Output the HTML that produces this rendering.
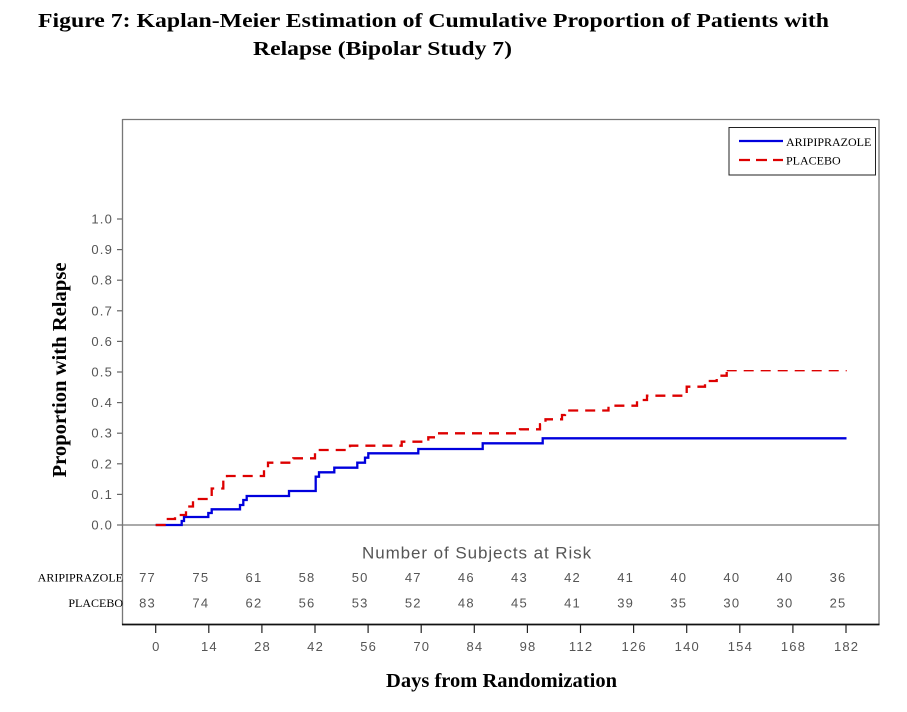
<!DOCTYPE html>
<html><head><meta charset="utf-8">
<style>
html,body{margin:0;padding:0;background:#fff;}
svg{display:block;}
.tk{font-family:"Liberation Sans",sans-serif;font-size:13px;fill:#555;letter-spacing:1.2px;}
</style></head>
<body>
<svg width="907" height="712" viewBox="0 0 907 712" xmlns="http://www.w3.org/2000/svg">
<rect width="907" height="712" fill="#fff"/>
<!-- Title -->
<text x="38" y="27" font-family="Liberation Serif, serif" font-weight="bold" font-size="20" textLength="791" lengthAdjust="spacingAndGlyphs" fill="#000">Figure 7:  Kaplan-Meier Estimation of Cumulative Proportion of Patients with</text>
<text x="253" y="55" font-family="Liberation Serif, serif" font-weight="bold" font-size="20" textLength="259" lengthAdjust="spacingAndGlyphs" fill="#000">Relapse (Bipolar Study 7)</text>

<!-- Frame -->
<line x1="122.5" y1="119.5" x2="879" y2="119.5" stroke="#777" stroke-width="1.3"/>
<line x1="122.5" y1="119" x2="122.5" y2="625" stroke="#777" stroke-width="1.3"/>
<line x1="879" y1="119" x2="879" y2="625" stroke="#777" stroke-width="1.3"/>
<line x1="122" y1="624.5" x2="879.5" y2="624.5" stroke="#111" stroke-width="1.8"/>
<!-- zero line -->
<line x1="122.5" y1="525" x2="879" y2="525" stroke="#777" stroke-width="1.2"/>

<!-- Legend -->
<rect x="729" y="127.5" width="146.5" height="47.5" fill="#fff" stroke="#222" stroke-width="1"/>
<line x1="739" y1="141" x2="783" y2="141" stroke="#0000dd" stroke-width="2.2"/>
<text x="786" y="146" font-family="Liberation Serif, serif" font-size="12" fill="#000">ARIPIPRAZOLE</text>
<line x1="739" y1="160" x2="783" y2="160" stroke="#dd0000" stroke-width="2.2" stroke-dasharray="11 6"/>
<text x="786" y="164.5" font-family="Liberation Serif, serif" font-size="12" fill="#000">PLACEBO</text>

<!-- Y axis ticks and labels -->
<g stroke="#666" stroke-width="1.2">
<line x1="117" y1="525" x2="122" y2="525"/>
<line x1="117" y1="494.4" x2="122" y2="494.4"/>
<line x1="117" y1="463.8" x2="122" y2="463.8"/>
<line x1="117" y1="433.2" x2="122" y2="433.2"/>
<line x1="117" y1="402.6" x2="122" y2="402.6"/>
<line x1="117" y1="372" x2="122" y2="372"/>
<line x1="117" y1="341.4" x2="122" y2="341.4"/>
<line x1="117" y1="310.8" x2="122" y2="310.8"/>
<line x1="117" y1="280.2" x2="122" y2="280.2"/>
<line x1="117" y1="249.6" x2="122" y2="249.6"/>
<line x1="117" y1="219" x2="122" y2="219"/>
</g>
<g class="tk" text-anchor="end">
<text x="113" y="529.5">0.0</text>
<text x="113" y="498.9">0.1</text>
<text x="113" y="468.3">0.2</text>
<text x="113" y="437.7">0.3</text>
<text x="113" y="407.1">0.4</text>
<text x="113" y="376.5">0.5</text>
<text x="113" y="345.9">0.6</text>
<text x="113" y="315.3">0.7</text>
<text x="113" y="284.7">0.8</text>
<text x="113" y="254.1">0.9</text>
<text x="113" y="223.5">1.0</text>
</g>

<!-- Y label -->
<text transform="translate(66,370) rotate(-90)" text-anchor="middle" font-family="Liberation Serif, serif" font-weight="bold" font-size="20" textLength="215" lengthAdjust="spacingAndGlyphs" fill="#000">Proportion  with  Relapse</text>

<!-- Curves -->
<polyline fill="none" stroke="#0000dd" stroke-width="2.3" points="155.7,525 181.7,525 181.7,521 184,521 184,517 208.3,517 208.3,513 211.7,513 211.7,509.3 240,509.3 240,505 243.3,505 243.3,500 246.7,500 246.7,496 289,496 289,491 315.7,491 315.7,476.7 319,476.7 319,472.3 334.3,472.3 334.3,467.7 357.3,467.7 357.3,462.7 365,462.7 365,457.7 368.3,457.7 368.3,453.3 418.3,453.3 418.3,449 482.7,449 482.7,443.3 542.7,443.3 542.7,438.3 846.5,438.3"/>
<polyline fill="none" stroke="#dd0000" stroke-width="2.3" stroke-dasharray="10 7" points="155.7,525 166.7,525 166.7,519 175,519 175,515 186,515 186,506.5 193,506.5 193,499 211.7,499 211.7,488.5 223.3,488.5 223.3,480 227,480 227,476 264,476 264,467.5 268,467.5 268,462.7 293.3,462.7 293.3,458.3 315,458.3 315,450 350,450 350,445.7 401.7,445.7 401.7,441.7 428.3,441.7 428.3,437.3 436.7,437.3 436.7,433.3 520,433.3 520,429.3 540,429.3 540,424.3 545.5,424.3 545.5,419.3 562,419.3 562,415 565,415 565,410.5 608.5,410.5 608.5,405.7 637,405.7 637,400 647,400 647,395.7 686.7,395.7 686.7,386.7 705,386.7 705,381 716.7,381 716.7,375.7 726.7,375.7 726.7,370.7"/>
<line x1="726.7" y1="370.7" x2="846.7" y2="370.7" stroke="#dd0000" stroke-width="1.4" stroke-dasharray="10 7"/>

<!-- Number at risk -->
<text x="362" y="558.5" font-family="Liberation Sans, sans-serif" font-size="17" fill="#555" letter-spacing="0.9" textLength="230" lengthAdjust="spacing">Number of Subjects at Risk</text>
<text x="123" y="581.5" text-anchor="end" font-family="Liberation Serif, serif" font-size="12" fill="#000">ARIPIPRAZOLE</text>
<text x="123" y="607" text-anchor="end" font-family="Liberation Serif, serif" font-size="12" fill="#000">PLACEBO</text>
<g class="tk" text-anchor="end">
<text x="156" y="582">77</text><text x="209.3" y="582">75</text><text x="262.4" y="582">61</text><text x="315.5" y="582">58</text><text x="368.6" y="582">50</text><text x="421.7" y="582">47</text><text x="474.8" y="582">46</text><text x="527.9" y="582">43</text><text x="581" y="582">42</text><text x="634.1" y="582">41</text><text x="687.2" y="582">40</text><text x="740.3" y="582">40</text><text x="793.4" y="582">40</text><text x="846.5" y="582">36</text>
<text x="156" y="607.5">83</text><text x="209.3" y="607.5">74</text><text x="262.4" y="607.5">62</text><text x="315.5" y="607.5">56</text><text x="368.6" y="607.5">53</text><text x="421.7" y="607.5">52</text><text x="474.8" y="607.5">48</text><text x="527.9" y="607.5">45</text><text x="581" y="607.5">41</text><text x="634.1" y="607.5">39</text><text x="687.2" y="607.5">35</text><text x="740.3" y="607.5">30</text><text x="793.4" y="607.5">30</text><text x="846.5" y="607.5">25</text>
</g>

<!-- X ticks -->
<g stroke="#222" stroke-width="1.2">
<line x1="155.7" y1="625" x2="155.7" y2="633"/><line x1="208.8" y1="625" x2="208.8" y2="633"/><line x1="261.9" y1="625" x2="261.9" y2="633"/><line x1="315" y1="625" x2="315" y2="633"/><line x1="368.1" y1="625" x2="368.1" y2="633"/><line x1="421.2" y1="625" x2="421.2" y2="633"/><line x1="474.3" y1="625" x2="474.3" y2="633"/><line x1="527.4" y1="625" x2="527.4" y2="633"/><line x1="580.5" y1="625" x2="580.5" y2="633"/><line x1="633.6" y1="625" x2="633.6" y2="633"/><line x1="686.7" y1="625" x2="686.7" y2="633"/><line x1="739.8" y1="625" x2="739.8" y2="633"/><line x1="792.9" y1="625" x2="792.9" y2="633"/><line x1="846" y1="625" x2="846" y2="633"/>
</g>
<g class="tk" text-anchor="middle">
<text x="156.3" y="651">0</text><text x="209.4" y="651">14</text><text x="262.5" y="651">28</text><text x="315.6" y="651">42</text><text x="368.7" y="651">56</text><text x="421.8" y="651">70</text><text x="474.9" y="651">84</text><text x="528" y="651">98</text><text x="581.1" y="651">112</text><text x="634.2" y="651">126</text><text x="687.3" y="651">140</text><text x="740.4" y="651">154</text><text x="793.5" y="651">168</text><text x="846.6" y="651">182</text>
</g>

<!-- X label -->
<text x="386" y="687" font-family="Liberation Serif, serif" font-weight="bold" font-size="20" textLength="231" lengthAdjust="spacingAndGlyphs" fill="#000">Days  from  Randomization</text>
</svg>
</body></html>
